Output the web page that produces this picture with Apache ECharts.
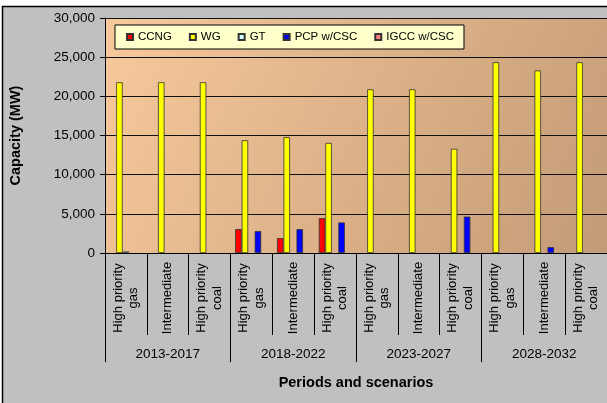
<!DOCTYPE html>
<html><head><meta charset="utf-8">
<script src="https://cdn.jsdelivr.net/npm/echarts@6/dist/echarts.min.js"></script>
<style>html,body{margin:0;padding:0;background:#fff;}#c{width:607px;height:403px;}</style>
</head><body><div id="c"></div>
<script>
const categories = ['High priority\ngas','Intermediate','High priority\ncoal','High priority\ngas','Intermediate','High priority\ncoal','High priority\ngas','Intermediate','High priority\ncoal','High priority\ngas','Intermediate','High priority\ncoal'];
const periods = ['2013-2017','2018-2022','2023-2027','2028-2032'];
const seriesNames = ['CCNG','WG','GT','PCP w/CSC','IGCC w/CSC'];
const ccng = [0,0,0,3050,1900,4450,0,0,0,0,0,0];
const wg   = [21800,21800,21800,14400,14800,14050,20900,20900,13300,24350,23300,24350];
const gt   = [200,0,0,0,0,0,0,0,0,0,0,0];
const pcp  = [0,0,0,2800,3050,3900,0,0,4650,0,750,0];
const igcc = [0,0,0,0,0,0,0,0,0,0,0,0];
const yTicks = [0,5000,10000,15000,20000,25000,30000];

const colors = ['#ff0000','#ffff00','#ccffff','#0000ff','#ff8080'];
const values = [ccng, wg, gt, pcp, igcc];
const FONT = 'Liberation Sans, Arial, sans-serif';

const chart = echarts.init(document.getElementById('c'), null, {renderer:'canvas'});
chart.setOption({
  animation: false,
  backgroundColor: '#ffffff',
  textStyle: {fontFamily: FONT},
  graphic: [{
    type: 'rect', z: -10, silent: true,
    shape: {x: 2.5, y: 6.5, width: 620, height: 420},
    style: {fill: '#c0c0c0', stroke: '#000', lineWidth: 1.5}
  }],
  grid: {
    left: 105, top: 18, width: 503, bottom: 150,
    show: true, borderWidth: 0,
    backgroundColor: new echarts.graphic.LinearGradient(0, 0, 1, 1, [
      {offset: 0, color: '#f7c99b'}, {offset: 1, color: '#c39b77'}
    ])
  },
  legend: {
    left: 115, top: 25,
    data: seriesNames,
    backgroundColor: '#ffffcc', borderColor: '#000', borderWidth: 1,
    padding: [6, 10, 6, 11],
    itemWidth: 6, itemHeight: 6, itemGap: 17,
    icon: 'rect',
    textStyle: {fontSize: 11.5, color: '#000', fontFamily: FONT}
  },
  xAxis: [{
    type: 'category', data: categories, position: 'bottom',
    axisLine: {lineStyle: {color: '#000', width: 1}},
    axisTick: {show: true, interval: 0, length: 82, lineStyle: {color: '#000'}},
    axisLabel: {interval: 0, rotate: 90, align: 'center', verticalAlign: 'middle',
      margin: 45, fontSize: 13, lineHeight: 15.5, color: '#000', fontFamily: FONT}
  }, {
    type: 'category', data: periods, position: 'bottom',
    axisLine: {show: false},
    axisTick: {show: true, interval: 0, length: 109, lineStyle: {color: '#000'}},
    axisLabel: {interval: 0, margin: 94, fontSize: 13.5, color: '#000', fontFamily: FONT},
    name: 'Periods and scenarios', nameLocation: 'middle', nameGap: 122,
    nameTextStyle: {fontSize: 14.5, fontWeight: 'bold', color: '#000', fontFamily: FONT}
  }],
  yAxis: {
    type: 'value', min: 0, max: 30000, interval: 5000,
    axisLine: {show: true, lineStyle: {color: '#000'}},
    axisTick: {show: true, length: 5, lineStyle: {color: '#000'}},
    splitLine: {lineStyle: {color: '#111', width: 1}},
    axisLabel: {margin: 10, fontSize: 13.5, color: '#000', fontFamily: FONT,
      formatter: v => v.toLocaleString('en-US')},
    name: 'Capacity (MW)', nameLocation: 'middle', nameRotate: 90, nameGap: 82,
    nameTextStyle: {fontSize: 14.5, fontWeight: 'bold', color: '#000', fontFamily: FONT}
  },
  series: seriesNames.map((n, i) => ({
    name: n, type: 'bar', xAxisIndex: 0,
    barWidth: 6.5, barGap: '0%',
    data: values[i].map(v => v === 0 ? null : v),
    itemStyle: {color: colors[i], borderColor: '#333', borderWidth: 0.8}
  }))
});
</script></body></html>
